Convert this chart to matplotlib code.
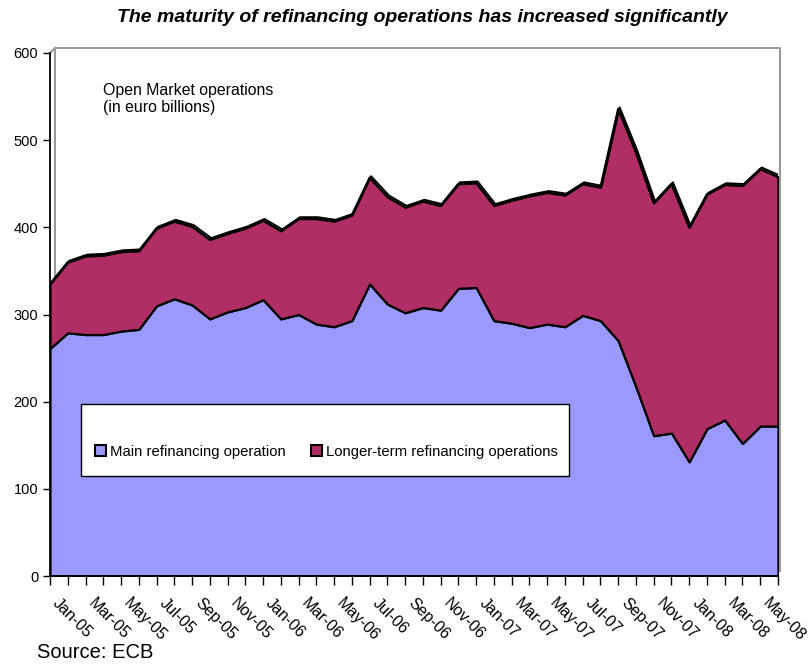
import numpy as np
import matplotlib.pyplot as plt
from matplotlib.patches import Patch, Rectangle
from matplotlib.transforms import offset_copy

plt.rcParams['font.family'] = ['Liberation Sans', 'DejaVu Sans']

months = ['Jan-05', 'Feb-05', 'Mar-05', 'Apr-05', 'May-05', 'Jun-05', 'Jul-05', 'Aug-05',
          'Sep-05', 'Oct-05', 'Nov-05', 'Dec-05', 'Jan-06', 'Feb-06', 'Mar-06', 'Apr-06',
          'May-06', 'Jun-06', 'Jul-06', 'Aug-06', 'Sep-06', 'Oct-06', 'Nov-06', 'Dec-06',
          'Jan-07', 'Feb-07', 'Mar-07', 'Apr-07', 'May-07', 'Jun-07', 'Jul-07', 'Aug-07',
          'Sep-07', 'Oct-07', 'Nov-07', 'Dec-07', 'Jan-08', 'Feb-08', 'Mar-08', 'Apr-08',
          'May-08', 'Jun-08']

# euro billions
main_ops = [261, 279, 277, 277, 281, 283, 310, 318, 311, 295, 303, 308, 317, 295,
            300, 289, 286, 293, 335, 312, 302, 308, 305, 330, 331, 293, 290, 285,
            289, 286, 299, 293, 270, 217, 161, 164, 131, 169, 179, 152, 172, 172]
longer_ops = [74, 81, 90, 91, 91, 90, 89, 89, 90, 91, 90, 91, 91, 101,
              110, 121, 121, 121, 122, 123, 121, 122, 120, 120, 120, 132, 141, 151,
              151, 151, 151, 153, 266, 269, 267, 286, 269, 269, 270, 296, 295, 286]

blue = '#9999FF'
plum = '#B02E63'

x = np.arange(len(months))
main = np.array(main_ops)
total = main + np.array(longer_ops)

fig = plt.figure(figsize=(8.12, 6.65), dpi=100)
ax = fig.add_axes([50/812, 89/665, 728/812, 523/665])

# back wall of the pseudo-3d chart
ax.plot([0.0069, 0.0069, 1.0027, 1.0027], [0.0, 1.0096, 1.0096, 0.01],
        color='#999999', lw=1.5, transform=ax.transAxes, clip_on=False, zorder=0)
ax.plot([0.0, 0.0069], [1.0, 1.0096], color='#999999', lw=1.5,
        transform=ax.transAxes, clip_on=False, zorder=0)

ax.fill_between(x, 0, main, facecolor=blue, edgecolor='black', lw=1.6, zorder=2)
ax.fill_between(x, main, total, facecolor=plum, edgecolor='black', lw=1.6, zorder=2)
shadow = offset_copy(ax.transData, fig=fig, x=1.5, y=1.5, units='dots')
ax.plot(x, total, color='black', lw=1.3, transform=shadow, zorder=3)
ax.plot(x, total, color='black', lw=1.6, zorder=3)

ax.set_xlim(0, len(months) - 1)
ax.set_ylim(0, 600)
ax.set_yticks(range(0, 700, 100))
ax.tick_params(axis='y', labelsize=10.5, length=5, width=1)
ax.set_xticks(x)
ax.set_xticklabels([m if i % 2 == 0 else '' for i, m in enumerate(months)],
                   rotation=-45, ha='left', va='bottom', rotation_mode='anchor', fontsize=11.5)
ax.tick_params(axis='x', length=6.5, width=1, pad=15)

for s in ['top', 'right']:
    ax.spines[s].set_visible(False)
for s in ['left', 'bottom']:
    ax.spines[s].set_linewidth(1.3)

ax.text(53/728, 493/523, 'Open Market operations\n(in euro billions)',
        transform=ax.transAxes, va='top', ha='left', fontsize=11.4, linespacing=1.2)

ax.add_patch(Rectangle((0.0426, 0.191), 0.670, 0.138, transform=ax.transAxes,
                       facecolor='white', edgecolor='black', lw=1, zorder=5))
handles = [Patch(facecolor=blue, edgecolor='black', lw=1.5, label='Main refinancing operation'),
           Patch(facecolor=plum, edgecolor='black', lw=1.5, label='Longer-term refinancing operations')]
leg = ax.legend(handles=handles, ncol=2, loc='center left', bbox_to_anchor=(0.052, 0.238),
                frameon=False, fontsize=10.7, borderpad=0, handlelength=0.75, handleheight=0.75,
                handletextpad=0.25, columnspacing=1.7)
leg.set_zorder(6)

fig.text(0.52, 1 - 18/665, 'The maturity of refinancing operations has increased significantly',
         ha='center', va='center', fontsize=14, fontweight='bold', style='italic')
fig.text(37/812, 1 - 653/665, 'Source: ECB', ha='left', va='center', fontsize=14.5)

fig.savefig('out.png', dpi=100)
